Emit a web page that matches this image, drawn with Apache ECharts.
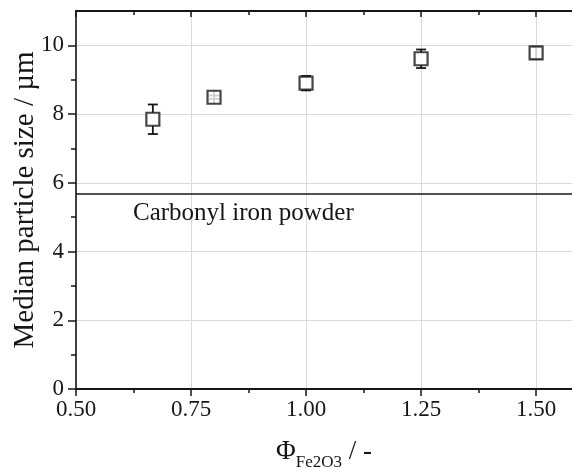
<!DOCTYPE html>
<html>
<head>
<meta charset="utf-8">
<script src="https://cdn.jsdelivr.net/npm/echarts@6/dist/echarts.min.js"></script>
<style>html,body{margin:0;padding:0;background:#fff;}#c{width:572px;height:468px;}</style>
</head>
<body>
<div id="c"></div>
<script>
var phi = [0.667, 0.8, 1.0, 1.25, 1.5];
var medianSize = [7.85, 8.49, 8.90, 9.61, 9.78];
var sizeError = [0.43, 0.05, 0.21, 0.27, 0.17];
var referenceLevel = 5.67;
var referenceLabel = 'Carbonyl iron powder';
var xTicks = [0.5, 0.75, 1.0, 1.25, 1.5];
var xMinorTicks = [0.625, 0.875, 1.125, 1.375];
var yTicks = [0, 2, 4, 6, 8, 10];
var yMinorTicks = [1, 3, 5, 7, 9];

var FONT = '"Liberation Serif", "DejaVu Serif", serif';
var INK = '#161616';
var BOX = 13;
var X_MIN = 0.5, X_MAX = 1.578, Y_MIN = 0, Y_MAX = 11;

var points = phi.map(function (x, i) { return [x, medianSize[i]]; });
var errData = phi.map(function (x, i) { return [x, medianSize[i], sizeError[i]]; });

var chart = echarts.init(document.getElementById('c'));

function renderErr(params, api) {
  var x = api.value(0), y = api.value(1), e = api.value(2);
  var c = api.coord([x, y]);
  var top = api.coord([x, y + e])[1];
  var bot = api.coord([x, y - e])[1];
  var half = BOX / 2;
  var cap = 5;
  var style = { stroke: INK, lineWidth: 1.8 };
  var children = [];
  if (c[1] - top > half) {
    children.push({ type: 'line', shape: { x1: c[0], y1: top, x2: c[0], y2: c[1] - half }, style: style });
    children.push({ type: 'line', shape: { x1: c[0], y1: bot, x2: c[0], y2: c[1] + half }, style: style });
  } else {
    children.push({ type: 'line', shape: { x1: c[0], y1: c[1] - half, x2: c[0], y2: c[1] + half }, style: style });
  }
  children.push({ type: 'line', shape: { x1: c[0] - cap, y1: top, x2: c[0] + cap, y2: top }, style: style });
  children.push({ type: 'line', shape: { x1: c[0] - cap, y1: bot, x2: c[0] + cap, y2: bot }, style: style });
  return { type: 'group', children: children };
}

var labelStyle = { fontFamily: FONT, fontSize: 23, color: INK };
var tickLine = { color: INK, width: 1.5 };

function tickAxis(pos, values, len, inside) {
  return {
    type: 'value', position: pos, min: pos === 'left' ? Y_MIN : X_MIN, max: pos === 'left' ? Y_MAX : X_MAX,
    axisLine: { show: false, onZero: false },
    axisTick: { show: true, inside: inside, length: len, lineStyle: tickLine, customValues: values },
    axisLabel: { show: false }, splitLine: { show: false }
  };
}

chart.setOption({
  animation: false,
  backgroundColor: '#fff',
  grid: { left: 76, top: 11, right: 0, bottom: 79, containLabel: false, outerBoundsMode: 'none' },
  xAxis: [{
    type: 'value', position: 'bottom', min: X_MIN, max: X_MAX, interval: 0.25,
    axisLine: { show: true, onZero: false, lineStyle: { color: INK, width: 2 } },
    axisTick: { show: true, inside: false, length: 7, lineStyle: tickLine, customValues: xTicks },
    splitLine: { show: true, lineStyle: { color: '#dadada', width: 1 } },
    axisLabel: Object.assign({ margin: 9, customValues: xTicks,
      formatter: function (v) { return v.toFixed(2); } }, labelStyle),
    name: '{phi|Φ}{sub|Fe2O3}{n| / -}', nameLocation: 'middle', nameGap: 46, nameMoveOverlap: false,
    nameTextStyle: {
      fontFamily: FONT, color: INK,
      rich: {
        phi: { fontFamily: FONT, fontSize: 27, color: INK, verticalAlign: 'bottom', lineHeight: 30 },
        sub: { fontFamily: FONT, fontSize: 17, color: INK, verticalAlign: 'bottom', lineHeight: 30, padding: [0, 0, -6, 0] },
        n: { fontFamily: FONT, fontSize: 27, color: INK, verticalAlign: 'bottom', lineHeight: 30 }
      }
    }
  }, {
    type: 'value', position: 'top', min: X_MIN, max: X_MAX,
    axisLine: { show: true, onZero: false, lineStyle: { color: INK, width: 2 } },
    axisTick: { show: true, inside: true, length: 6, lineStyle: tickLine, customValues: xTicks },
    splitLine: { show: false },
    axisLabel: { show: false }
  },
    tickAxis('bottom', xMinorTicks, 4, false),
    tickAxis('top', xMinorTicks, 4, true)
  ],
  yAxis: [{
    type: 'value', position: 'left', min: Y_MIN, max: Y_MAX, interval: 2,
    axisLine: { show: true, onZero: false, lineStyle: { color: INK, width: 1.6 } },
    axisTick: { show: true, inside: false, length: 8, lineStyle: tickLine, customValues: yTicks },
    splitLine: { show: true, lineStyle: { color: '#dadada', width: 1 } },
    axisLabel: Object.assign({ margin: 12, customValues: yTicks,
      formatter: function (v) { return String(v); } }, labelStyle),
    name: 'Median particle size / µm', nameLocation: 'middle', nameGap: 36, nameMoveOverlap: false,
    nameTextStyle: { fontFamily: FONT, fontSize: 29, color: INK }
  },
    tickAxis('left', yMinorTicks, 5, false)
  ],
  series: [{
    type: 'custom', xAxisIndex: 0, yAxisIndex: 0,
    renderItem: renderErr, data: errData, z: 3,
    encode: { x: 0, y: 1 }, clip: false
  }, {
    type: 'scatter', xAxisIndex: 0, yAxisIndex: 0,
    data: points, symbol: 'rect', symbolSize: BOX, z: 4,
    itemStyle: { color: '#ffffff', borderColor: INK, borderWidth: 2.2 },
    markLine: {
      silent: true, symbol: ['none', 'none'],
      lineStyle: { color: INK, width: 1.6, type: 'solid' },
      label: {
        show: true, position: 'insideStartBottom', formatter: referenceLabel,
        fontFamily: FONT, fontSize: 25, color: INK, distance: [57, 7]
      },
      data: [{ yAxis: referenceLevel }]
    }
  }]
});
</script>
</body>
</html>
